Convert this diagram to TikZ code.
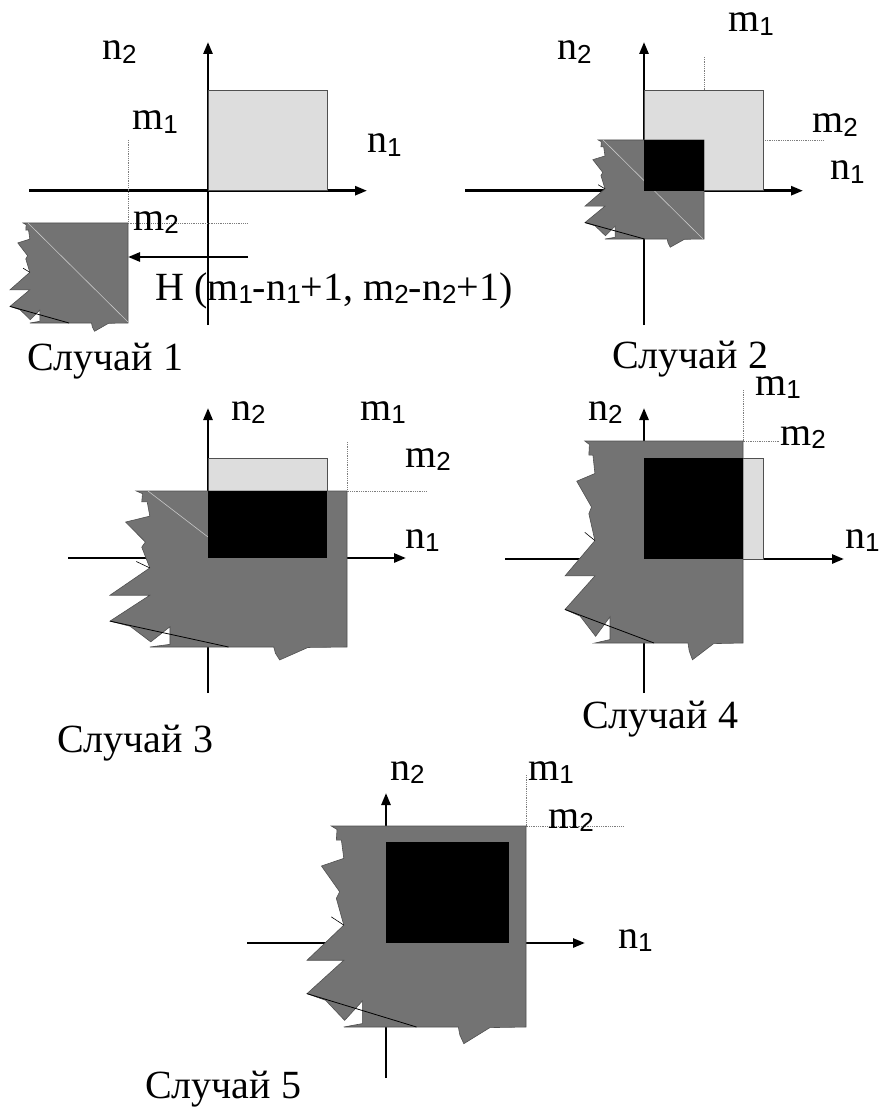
\documentclass[tikz,border=0pt]{standalone}
\usepackage{fontspec}
\setmainfont{Liberation Serif}
\newfontfamily\sansf{Liberation Sans}
\usetikzlibrary{arrows.meta}
\definecolor{SoftGray}{RGB}{221,221,221}
\definecolor{ShadeGray}{RGB}{115,115,115}
\definecolor{EdgeGray}{RGB}{80,80,80}
\definecolor{DotGray}{RGB}{125,125,125}
\newcommand{\subsf}[1]{\raisebox{-3.5pt}{\sansf\fontsize{26pt}{26pt}\selectfont #1}}
% jagged shaded piece: left, top, width, height
\newcommand{\shadepiece}[4]{%
  \begin{scope}[shift={(#1,#2)}, x=#3pt, y=-#4pt]
    \filldraw[fill=ShadeGray, draw=EdgeGray, line width=0.6pt]
      (1,0) -- (0.111,0) -- (0.137,0.017) -- (0.134,0.07) -- (0.157,0.07)
      -- (0.168,0.161) -- (0.066,0.199) -- (0.149,0.327) -- (0.134,0.36)
      -- (0.168,0.493) -- (0,0.668) -- (0.168,0.668) -- (0,0.834)
      -- (0.085,0.867) -- (0.172,0.967) -- (0.253,0.87) -- (0.253,0.983)
      -- (0.168,1) -- (0.691,1) -- (0.698,1.04) -- (0.716,1.083)
      -- (0.835,1.003) -- (1,1) -- cycle;
    \draw[line width=0.8pt] (0,0.834) -- (0.5,1);
    \draw[line width=0.6pt] (0.111,0.452) -- (0.168,0.493);
  \end{scope}}

\begin{document}
\begin{tikzpicture}[x=1pt, y=-1pt,
    axisline/.style={line width=2.6pt, -{Triangle[length=12pt, width=9pt]}},
    stemline/.style={line width=2.6pt},
    guideline/.style={DotGray, line width=0.8pt, densely dotted},
    softbox/.style={fill=SoftGray, draw=EdgeGray, line width=0.8pt},
    coreblock/.style={fill=black},
    diag/.style={white!60!ShadeGray, line width=0.6pt},
    txt/.style={inner sep=0pt, anchor=base west, font=\fontsize{40pt}{44pt}\selectfont}
  ]
  \useasboundingbox (0,0) rectangle (880,1115);

  % case 1
  \draw[axisline] (29,190.7) -- (367,190.7);
  \draw[axisline] (208,325) -- (208,42);
  \draw[guideline] (128,140) -- (128,223) -- (248,223);
  \draw[softbox] (208,90) rectangle (327,190.7);
  \shadepiece{10}{223}{118}{100}
  \draw[diag] (28,223) -- (128,322);
  \draw[axisline] (248,257) -- (128,257);
  \node[txt] (c1n2) at (102,60) {n\subsf{2}};
  \node[txt] (c1m1) at (132,130) {m\subsf{1}};
  \node[txt] (c1n1) at (367,153) {n\subsf{1}};
  \node[txt] (c1m2) at (133,230) {m\subsf{2}};
  \node[txt] (c1h) at (155,300) {H (m\subsf{1}-n\subsf{1}+1, m\subsf{2}-n\subsf{2}+1)};
  \node[txt] (c1t) at (27,370) {Случай 1};

  % case 2
  \draw[axisline] (465,190.7) -- (803,190.7);
  \draw[axisline] (644,325) -- (644,42);
  \draw[guideline] (704,57) -- (704,140) -- (823,140);
  \draw[softbox] (644,90) rectangle (763,190.7);
  \shadepiece{585}{140}{119}{99}
  \draw[diag] (603,140) -- (703,239);
  \fill[coreblock] (644,140) rectangle (704,190.7);
  \node[txt] (c2m1) at (728,32) {m\subsf{1}};
  \node[txt] (c2n2) at (557,60) {n\subsf{2}};
  \node[txt] (c2m2) at (812,133) {m\subsf{2}};
  \node[txt] (c2n1) at (830,180) {n\subsf{1}};
  \node[txt] (c2t) at (612,368) {Случай 2};

  % case 3
  \draw[axisline] (68,558) -- (406,558);
  \draw[axisline] (208,693) -- (208,408);
  \draw[guideline] (347,442) -- (347,491) -- (427,491);
  \draw[softbox] (208,458) rectangle (327,491);
  \shadepiece{110}{491}{237}{156}
  \draw[diag] (148,491) -- (208,537);
  \fill[coreblock] (208,491) rectangle (327,558);
  \node[txt] (c3n2) at (231,420) {n\subsf{2}};
  \node[txt] (c3m1) at (360,420) {m\subsf{1}};
  \node[txt] (c3m2) at (405,467) {m\subsf{2}};
  \node[txt] (c3n1) at (405,548) {n\subsf{1}};
  \node[txt] (c3t) at (57,752) {Случай 3};

  % case 4
  \draw[axisline] (505,559) -- (844,559);
  \draw[axisline] (644,693) -- (644,408);
  \draw[guideline] (743,390) -- (743,441) -- (780,441);
  \draw[softbox] (644,458) rectangle (763,559);
  \shadepiece{565}{441}{178}{202}
  \fill[coreblock] (644,458) rectangle (743,559);
  \node[txt] (c4m1) at (755,395) {m\subsf{1}};
  \node[txt] (c4n2) at (588,420) {n\subsf{2}};
  \node[txt] (c4m2) at (780,445) {m\subsf{2}};
  \node[txt] (c4n1) at (845,548) {n\subsf{1}};
  \node[txt] (c4t) at (582,728) {Случай 4};

  % case 5
  \draw[axisline] (247,943) -- (585,943);
  \draw[axisline] (386,1078) -- (386,793);
  \draw[guideline] (526,775) -- (526,826) -- (623,826);
  \shadepiece{307}{826}{219}{201}
  \fill[coreblock] (386,842) rectangle (509,943);
  \node[txt] (c5n2) at (390,780) {n\subsf{2}};
  \node[txt] (c5m1) at (528,780) {m\subsf{1}};
  \node[txt] (c5m2) at (548,828) {m\subsf{2}};
  \node[txt] (c5n1) at (618,948) {n\subsf{1}};
  \node[txt] (c5t) at (145,1098) {Случай 5};
\end{tikzpicture}
\end{document}
